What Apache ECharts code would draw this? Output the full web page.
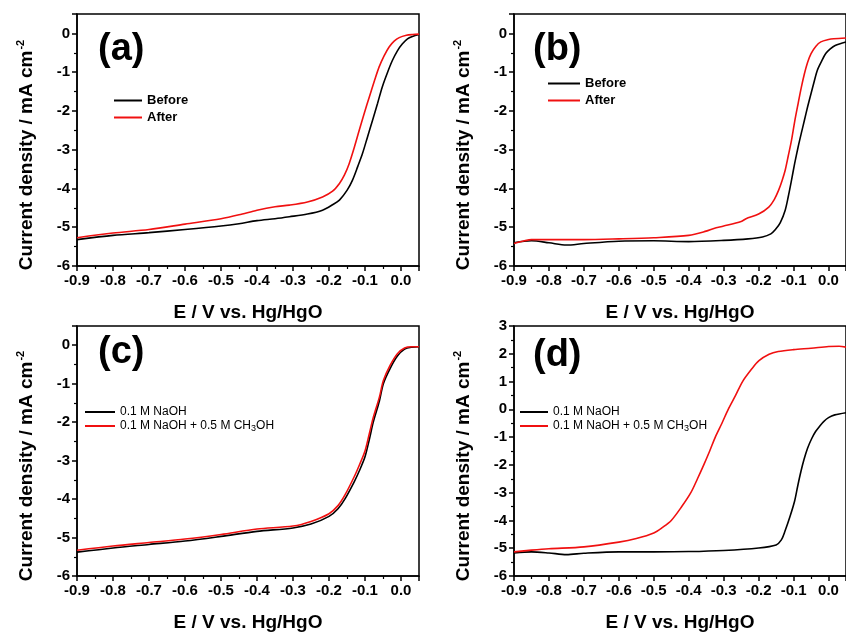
<!DOCTYPE html>
<html>
<head>
<meta charset="utf-8">
<script src="https://cdn.jsdelivr.net/npm/echarts@6/dist/echarts.min.js"></script>
<style>
  html, body { margin: 0; padding: 0; background: #fff; }
  #chart { width: 846px; height: 633px; }
</style>
</head>
<body>
<div id="chart"></div>
<script>
// data: [E (V vs Hg/HgO), current density (mA cm-2)]
var aBefore = [[-0.9,-5.32],[-0.8,-5.21],[-0.7,-5.14],[-0.6,-5.06],[-0.5,-4.97],[-0.45,-4.91],[-0.4,-4.83],[-0.35,-4.78],[-0.31,-4.73],[-0.26,-4.66],[-0.218,-4.56],[-0.19,-4.42],[-0.171,-4.30],[-0.15,-4.05],[-0.135,-3.79],[-0.12,-3.43],[-0.107,-3.10],[-0.093,-2.67],[-0.079,-2.24],[-0.065,-1.80],[-0.052,-1.38],[-0.038,-1.02],[-0.024,-0.70],[-0.01,-0.45],[0.004,-0.27],[0.018,-0.14],[0.032,-0.08],[0.05,-0.03]];
var aAfter = [[-0.9,-5.27],[-0.8,-5.15],[-0.7,-5.06],[-0.6,-4.92],[-0.5,-4.78],[-0.45,-4.68],[-0.4,-4.56],[-0.35,-4.47],[-0.31,-4.43],[-0.26,-4.35],[-0.218,-4.22],[-0.19,-4.07],[-0.171,-3.87],[-0.157,-3.65],[-0.144,-3.36],[-0.13,-2.95],[-0.116,-2.50],[-0.102,-2.06],[-0.088,-1.64],[-0.074,-1.23],[-0.061,-0.87],[-0.047,-0.58],[-0.033,-0.35],[-0.019,-0.2],[-0.005,-0.11],[0.015,-0.05],[0.032,-0.03],[0.05,-0.02]];

var bBefore = [[-0.9,-5.40],[-0.85,-5.35],[-0.8,-5.40],[-0.75,-5.46],[-0.7,-5.42],[-0.6,-5.36],[-0.5,-5.35],[-0.4,-5.37],[-0.3,-5.34],[-0.23,-5.30],[-0.189,-5.25],[-0.165,-5.17],[-0.152,-5.06],[-0.138,-4.88],[-0.124,-4.56],[-0.115,-4.2],[-0.106,-3.79],[-0.097,-3.36],[-0.087,-2.93],[-0.078,-2.58],[-0.069,-2.24],[-0.06,-1.9],[-0.05,-1.55],[-0.041,-1.24],[-0.032,-0.95],[-0.02,-0.72],[-0.008,-0.52],[0.005,-0.4],[0.019,-0.31],[0.05,-0.22]];
var bAfter = [[-0.9,-5.42],[-0.87,-5.35],[-0.85,-5.32],[-0.8,-5.32],[-0.7,-5.32],[-0.6,-5.30],[-0.5,-5.27],[-0.4,-5.21],[-0.35,-5.10],[-0.328,-5.03],[-0.3,-4.97],[-0.25,-4.85],[-0.236,-4.78],[-0.2,-4.66],[-0.171,-4.48],[-0.155,-4.28],[-0.143,-4.05],[-0.133,-3.8],[-0.124,-3.53],[-0.115,-3.15],[-0.106,-2.76],[-0.097,-2.28],[-0.087,-1.81],[-0.078,-1.4],[-0.069,-1.04],[-0.06,-0.75],[-0.05,-0.52],[-0.036,-0.33],[-0.022,-0.22],[0.0,-0.16],[0.015,-0.14],[0.05,-0.12]];

var cNaOH = [[-0.9,-5.38],[-0.8,-5.27],[-0.7,-5.18],[-0.6,-5.09],[-0.5,-4.97],[-0.4,-4.84],[-0.3,-4.75],[-0.25,-4.65],[-0.2,-4.45],[-0.175,-4.25],[-0.156,-4.0],[-0.13,-3.55],[-0.115,-3.25],[-0.1,-2.9],[-0.088,-2.45],[-0.077,-2.0],[-0.06,-1.45],[-0.049,-1.0],[-0.03,-0.6],[-0.01,-0.28],[0.01,-0.1],[0.03,-0.05],[0.05,-0.04]];
var cMeOH = [[-0.9,-5.33],[-0.8,-5.22],[-0.7,-5.13],[-0.6,-5.04],[-0.5,-4.92],[-0.4,-4.78],[-0.3,-4.70],[-0.25,-4.58],[-0.2,-4.38],[-0.175,-4.17],[-0.156,-3.9],[-0.13,-3.42],[-0.115,-3.1],[-0.1,-2.75],[-0.088,-2.3],[-0.077,-1.88],[-0.06,-1.35],[-0.049,-0.92],[-0.03,-0.52],[-0.01,-0.22],[0.01,-0.07],[0.03,-0.04],[0.05,-0.04]];

var dNaOH = [[-0.9,-5.17],[-0.85,-5.13],[-0.8,-5.17],[-0.75,-5.23],[-0.7,-5.18],[-0.6,-5.13],[-0.5,-5.13],[-0.4,-5.12],[-0.3,-5.08],[-0.2,-4.99],[-0.15,-4.88],[-0.135,-4.7],[-0.125,-4.4],[-0.11,-3.85],[-0.097,-3.3],[-0.088,-2.75],[-0.079,-2.24],[-0.07,-1.8],[-0.06,-1.4],[-0.048,-1.05],[-0.037,-0.8],[-0.025,-0.6],[-0.014,-0.44],[0.0,-0.3],[0.018,-0.2],[0.05,-0.12]];
var dMeOH = [[-0.9,-5.13],[-0.85,-5.07],[-0.8,-5.02],[-0.7,-4.95],[-0.6,-4.78],[-0.55,-4.65],[-0.5,-4.45],[-0.475,-4.25],[-0.45,-4.0],[-0.42,-3.5],[-0.394,-3.0],[-0.375,-2.5],[-0.357,-2.0],[-0.34,-1.5],[-0.324,-1.0],[-0.305,-0.5],[-0.287,0.0],[-0.266,0.5],[-0.246,1.0],[-0.22,1.45],[-0.199,1.75],[-0.17,1.98],[-0.144,2.08],[-0.1,2.15],[-0.05,2.2],[0.0,2.26],[0.03,2.27],[0.05,2.24]];

var panelLabels = ['(a)', '(b)', '(c)', '(d)'];
var legendAB = ['Before', 'After'];
var legendCD = ['0.1 M NaOH', '0.1 M NaOH + 0.5 M CH3OH'];
var xName = 'E / V vs. Hg/HgO';
var yName = 'Current density / mA cm{sup|-2}';

var FONT = 'Liberation Sans, Arial, sans-serif';
var BLACK = '#000';
var RED = '#f01010';

var grids = [
    {left: 77, top: 14, width: 342, height: 252},
    {left: 514, top: 14, width: 342, height: 252},
    {left: 77, top: 326, width: 342, height: 251},
    {left: 514, top: 326, width: 342, height: 251}
];
grids.forEach(function (g) {
    g.show = true;
    g.borderColor = BLACK;
    g.borderWidth = 1.5;
    g.backgroundColor = 'transparent';
});

function xAxisFor(i) {
    return {
        gridIndex: i, type: 'value', min: -0.9, max: 0.05, interval: 0.1,
        name: xName, nameLocation: 'middle', nameGap: 37,
        nameTextStyle: {fontFamily: FONT, fontWeight: 'bold', fontSize: 19, color: BLACK},
        axisLine: {onZero: false, lineStyle: {color: BLACK, width: 1.5}},
        axisTick: {inside: false, length: 5, lineStyle: {color: BLACK, width: 1.5}},
        minorTick: {show: true, splitNumber: 2, length: 3, lineStyle: {color: BLACK, width: 1.2}},
        splitLine: {show: false},
        axisLabel: {
            showMaxLabel: false, margin: 7, color: BLACK,
            fontFamily: FONT, fontWeight: 'bold', fontSize: 15,
            formatter: function (v) { return Math.abs(v) < 1e-9 ? '0.0' : v.toFixed(1); }
        }
    };
}

function yAxisFor(i, max) {
    return {
        gridIndex: i, type: 'value', min: -6, max: max, interval: 1,
        name: yName, nameLocation: 'middle', nameGap: 39, nameRotate: 90,
        nameTextStyle: {
            fontFamily: FONT, fontWeight: 'bold', fontSize: 19, color: BLACK,
            padding: [0, 30, 0, 0],
            rich: {sup: {fontFamily: FONT, fontWeight: 'bold', fontSize: 11, color: BLACK, padding: [0, 0, 12, 1]}}
        },
        axisLine: {onZero: false, lineStyle: {color: BLACK, width: 1.5}},
        axisTick: {inside: false, length: 5, lineStyle: {color: BLACK, width: 1.5}},
        minorTick: {show: true, splitNumber: 2, length: 3, lineStyle: {color: BLACK, width: 1.2}},
        splitLine: {show: false},
        axisLabel: {
            showMaxLabel: max === 3, margin: 7, color: BLACK,
            fontFamily: FONT, fontWeight: 'bold', fontSize: 15
        }
    };
}

function line(name, data, color, i) {
    return {
        name: name, type: 'line', data: data, xAxisIndex: i, yAxisIndex: i,
        showSymbol: false, symbol: 'none', smooth: 0.3, animation: false,
        lineStyle: {color: color, width: 1.6}, itemStyle: {color: color}
    };
}

function titleFor(i, left, top) {
    return {
        text: panelLabels[i], left: left, top: top, padding: 0,
        textStyle: {fontFamily: FONT, fontWeight: 'bold', fontSize: 38, color: BLACK}
    };
}

var legendText = {
    fontFamily: FONT, fontSize: 12, color: BLACK,
    rich: {sub: {fontFamily: FONT, fontSize: 9, color: BLACK, padding: [6, 0, 0, 0]}}
};

function legendFor(names, left, top, bold, gap, width) {
    return {
        data: names, left: left, top: top, orient: 'vertical',
        icon: 'rect', itemWidth: width, itemHeight: 2, itemGap: gap, padding: 0,
        textStyle: bold
            ? {fontFamily: FONT, fontSize: 13, fontWeight: 'bold', color: BLACK}
            : legendText,
        formatter: function (n) { return n.replace('CH3OH', 'CH{sub|3}OH'); }
    };
}

var option = {
    backgroundColor: '#fff',
    animation: false,
    title: [
        titleFor(0, 98, 31),
        titleFor(1, 533, 31),
        titleFor(2, 98, 334),
        titleFor(3, 533, 337)
    ],
    legend: [
        legendFor(legendAB, 114, 94, true, 4, 28),
        legendFor(legendAB, 548, 77, true, 4, 32),
        legendFor(legendCD, 85, 406, false, 2, 30),
        legendFor(legendCD, 520, 406, false, 2, 28)
    ],
    grid: grids,
    xAxis: [xAxisFor(0), xAxisFor(1), xAxisFor(2), xAxisFor(3)],
    yAxis: [yAxisFor(0, 0.5), yAxisFor(1, 0.5), yAxisFor(2, 0.5), yAxisFor(3, 3)],
    series: [
        line(legendAB[0], aBefore, BLACK, 0),
        line(legendAB[1], aAfter, RED, 0),
        line(legendAB[0], bBefore, BLACK, 1),
        line(legendAB[1], bAfter, RED, 1),
        line(legendCD[0], cNaOH, BLACK, 2),
        line(legendCD[1], cMeOH, RED, 2),
        line(legendCD[0], dNaOH, BLACK, 3),
        line(legendCD[1], dMeOH, RED, 3)
    ]
};

echarts.init(document.getElementById('chart'), null, {renderer: 'canvas'}).setOption(option);
</script>
</body>
</html>
